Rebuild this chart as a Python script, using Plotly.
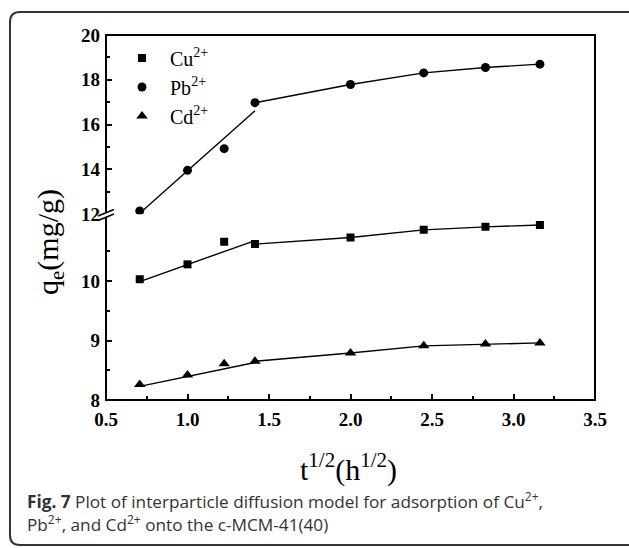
import plotly.graph_objects as go

# ---------------- data ----------------
x_sqrt_t = [0.707, 1.0, 1.225, 1.414, 2.0, 2.449, 2.828, 3.162]
cu = [10.03, 10.28, 10.66, 10.62, 10.73, 10.86, 10.91, 10.94]
pb = [12.15, 13.96, 14.93, 16.98, 17.79, 18.31, 18.55, 18.70]
cd = [8.26, 8.42, 8.61, 8.65, 8.79, 8.91, 8.94, 8.96]

# first linear-fit segments (stage 1)
fit1_x = [0.707, 1.414]
cu_fit1 = [9.99, 10.68]
pb_fit1 = [12.05, 16.62]
cd_fit1 = [8.23, 8.63]

x_major = [0.5, 1.0, 1.5, 2.0, 2.5, 3.0, 3.5]
x_minor = [0.75, 1.25, 1.75, 2.25, 2.75, 3.25]
x_labels = ["0.5", "1.0", "1.5", "2.0", "2.5", "3.0", "3.5"]
y_low_major = [8, 9, 10]
y_low_minor = [8.5, 9.5, 10.5]
y_up_major = [12, 14, 16, 18, 20]
y_up_minor = [13, 15, 17, 19]

# ---------------- layout geometry ----------------
W, H = 629, 548
L, R, T, B = 106, 34, 35, 148
PW, PH = W - L - R, H - T - B
split = (400 - 214.3) / PH          # domain fraction where the break sits
low_top = 8 + (400 - 214.3) / 59.5  # top value of lower segment


def pp(px, py):
    return (px - L) / PW, (H - B - py) / PH


SERIF = "Liberation Serif"
SANS = "Open Sans"

fig = go.Figure()

series = [("Cu<sup>2+</sup>", cu, cu_fit1, "square", 8, "y"),
          ("Pb<sup>2+</sup>", pb, pb_fit1, "circle", 9, "y2"),
          ("Cd<sup>2+</sup>", cd, cd_fit1, "triangle-up", 10, "y")]

for name, vals, fit, sym, size, yax in series:
    fig.add_trace(go.Scatter(x=fit1_x, y=fit, mode="lines", yaxis=yax,
                             line=dict(color="black", width=1.4), showlegend=False,
                             hoverinfo="skip"))
    fig.add_trace(go.Scatter(x=x_sqrt_t[3:], y=vals[3:], mode="lines", yaxis=yax,
                             line=dict(color="black", width=1.4), showlegend=False,
                             hoverinfo="skip"))
    fig.add_trace(go.Scatter(x=x_sqrt_t, y=vals, mode="markers", yaxis=yax, name=name,
                             marker=dict(symbol=sym, size=size, color="black")))

tickfont = dict(family=SERIF, size=19, color="black", weight="bold")
fig.update_layout(
    width=W, height=H, margin=dict(l=L, r=R, t=T, b=B),
    paper_bgcolor="white", plot_bgcolor="white",
    showlegend=True,
    legend=dict(x=pp(114, 0)[0], y=pp(0, 38.5)[1], xanchor="left", yanchor="top",
                bgcolor="rgba(0,0,0,0)", font=dict(family=SERIF, size=20, color="black"),
                tracegroupgap=0, itemsizing="trace", itemwidth=46),
    xaxis=dict(range=[0.5, 3.5], tickvals=x_major, ticktext=x_labels,
               ticks="inside", ticklen=6, tickwidth=1.5, tickcolor="black",
               minor=dict(tickvals=x_minor, ticks="inside", ticklen=4, tickwidth=1.5, tickcolor="black"),
               showgrid=False, zeroline=False, showline=False,
               tickfont=tickfont, ticklabelstandoff=6),
    yaxis=dict(domain=[0, split], range=[8, low_top], tickvals=y_low_major,
               ticks="inside", ticklen=6, tickwidth=1.5, tickcolor="black",
               minor=dict(tickvals=y_low_minor, ticks="inside", ticklen=4, tickwidth=1.5, tickcolor="black"),
               showgrid=False, zeroline=False, showline=False,
               tickfont=tickfont, ticklabelstandoff=5),
    yaxis2=dict(domain=[split, 1], range=[12, 20], tickvals=y_up_major,
                ticks="inside", ticklen=6, tickwidth=1.5, tickcolor="black",
                minor=dict(tickvals=y_up_minor, ticks="inside", ticklen=4, tickwidth=1.5, tickcolor="black"),
                showgrid=False, zeroline=False, showline=False,
                tickfont=tickfont, ticklabelstandoff=5, anchor="x"),
)

shapes = []
# plot border
shapes.append(dict(type="rect", xref="paper", yref="paper", x0=0, y0=0, x1=1, y1=1,
                   line=dict(color="black", width=2), layer="above"))
# axis break: white gap then two slanted strokes
gx0, gy0 = pp(103, 217.5)
gx1, gy1 = pp(109, 212.0)
shapes.append(dict(type="rect", xref="paper", yref="paper", x0=gx0, y0=gy0, x1=gx1, y1=gy1,
                   fillcolor="white", line=dict(width=0), layer="above"))
for dy in (0, 4.5):
    a = pp(98, 216 + dy)
    b = pp(114, 209.5 + dy)
    shapes.append(dict(type="line", xref="paper", yref="paper", x0=a[0], y0=a[1], x1=b[0], y1=b[1],
                       line=dict(color="black", width=1.5), layer="above"))
# rounded outer frame
r = 10
left, top, right, bottom = 10, 12, 645, 545
pts = [
    ("M", (left, bottom - r)), ("L", (left, top + r)), ("Q", (left, top), (left + r, top)),
    ("L", (right - r, top)), ("Q", (right, top), (right, top + r)),
    ("L", (right, bottom - r)), ("Q", (right, bottom), (right - r, bottom)),
    ("L", (left + r, bottom)), ("Q", (left, bottom), (left, bottom - r)),
]
path = ""
for seg in pts:
    cmd = seg[0]
    coords = " ".join("%.5f,%.5f" % pp(*c) for c in seg[1:])
    path += cmd + " " + coords + " "
path += "Z"
shapes.append(dict(type="path", xref="paper", yref="paper", path=path,
                   line=dict(color="#333333", width=2), layer="above"))
fig.update_layout(shapes=shapes)

ann = []
yx, yy = pp(50, 242)
ann.append(dict(xref="paper", yref="paper", x=yx, y=yy, text="q<sub>e</sub>(mg/g)", textangle=-90,
                showarrow=False, xanchor="center", yanchor="middle",
                font=dict(family=SERIF, size=30, color="black")))
tx, ty = pp(348, 467)
ann.append(dict(xref="paper", yref="paper", x=tx, y=ty, text="t<sup>1/2</sup>(h<sup>1/2</sup>)",
                showarrow=False, xanchor="center", yanchor="middle",
                font=dict(family=SERIF, size=30, color="black")))
c1x, c1y = pp(25, 501)
ann.append(dict(xref="paper", yref="paper", x=c1x, y=c1y,
                text="<b>Fig. 7</b> Plot of interparticle diffusion model for adsorption of Cu<sup>2+</sup>,",
                showarrow=False, xanchor="left", yanchor="middle",
                font=dict(family=SANS, size=17.2, color="#333333")))
c2x, c2y = pp(25, 523)
ann.append(dict(xref="paper", yref="paper", x=c2x, y=c2y,
                text="Pb<sup>2+</sup>, and Cd<sup>2+</sup> onto the c-MCM-41(40)",
                showarrow=False, xanchor="left", yanchor="middle",
                font=dict(family=SANS, size=17.2, color="#333333")))
fig.update_layout(annotations=ann)

fig.write_html("out.html")
